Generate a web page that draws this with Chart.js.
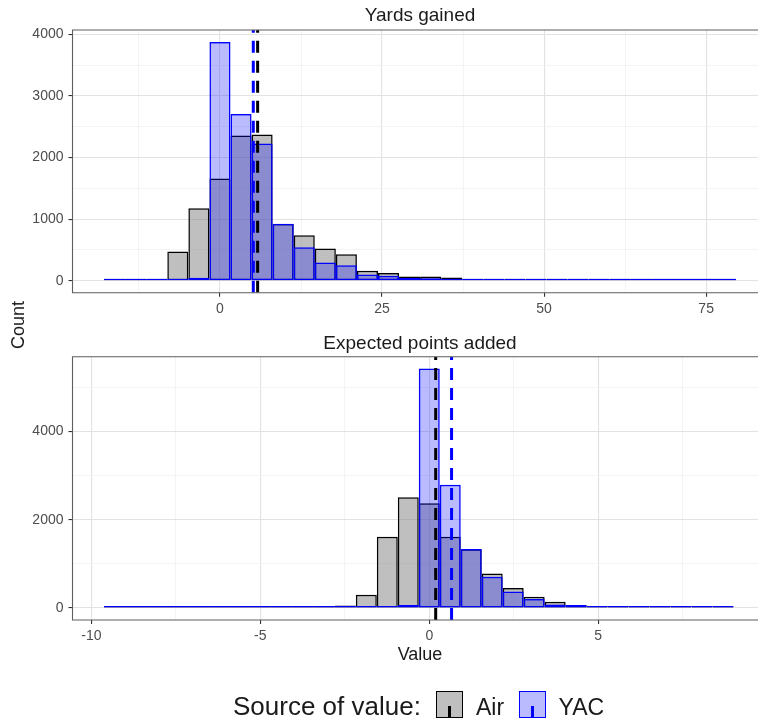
<!DOCTYPE html>
<html>
<head>
<meta charset="utf-8">
<script src="https://cdn.jsdelivr.net/npm/chart.js@4.4.1/dist/chart.umd.min.js"></script>
<style>
html,body{margin:0;padding:0;overflow:hidden;background:#fff;width:758px;height:721px;}
body{position:relative;font-family:"Liberation Sans",Arial,Helvetica,sans-serif;color:#1a1a1a;}
canvas{position:absolute;left:0;}
.txt{position:absolute;white-space:nowrap;}
.ttl{font-size:19px;line-height:19px;transform:translateX(-50%);}
.key{position:absolute;box-sizing:border-box;width:27px;height:27px;border:1.6px solid #000;}
.key i{position:absolute;left:50%;bottom:0;width:3px;margin-left:-1.5px;height:11px;}
</style>
</head>
<body>
<canvas id="c1" width="758" height="322" style="top:0px;width:758px;height:322px"></canvas>
<canvas id="c2" width="758" height="320" style="top:330px;width:758px;height:320px"></canvas>

<div class="txt ttl" id="t1" style="left:420px;top:4.6px;"></div>
<div class="txt ttl" id="t2" style="left:420px;top:333px;"></div>
<div class="txt" id="ylab" style="left:18px;top:325px;font-size:18px;line-height:18px;transform:translate(-50%,-50%) rotate(-90deg);"></div>
<div class="txt" id="xlab" style="left:420px;top:644.8px;font-size:18px;line-height:18px;transform:translateX(-50%);"></div>

<div class="txt" id="legTitle" style="left:233px;top:693px;font-size:26px;line-height:26px;"></div>
<div class="key" id="k1" style="left:436px;top:691px;"><i></i></div>
<div class="txt" id="l1" style="left:476px;top:695.5px;font-size:23px;line-height:23px;"></div>
<div class="key" id="k2" style="left:518.5px;top:691px;"><i></i></div>
<div class="txt" id="l2" style="left:558.5px;top:695.5px;font-size:23px;line-height:23px;"></div>

<script>
// ---------- data ----------
const panelTitles = ["Yards gained", "Expected points added"];
const axisTitles = ["Value", "Count"];
const legendTitle = "Source of value:";
const seriesNames = ["Air", "YAC"];

// Yards gained histogram (bin centres, counts)
const yardsBins = [-16.25, -13, -9.75, -6.5, -3.25, 0, 3.25, 6.5, 9.75, 13, 16.25, 19.5, 22.75, 26, 29.25,
                   32.5, 35.75, 39, 42.25, 45.5, 48.75, 52, 55.25, 58.5, 61.75, 65, 68.25, 71.5, 74.75, 78];
const yardsAir = [3, 8, 20, 474, 1175, 1660, 2356, 2372, 920, 738, 523, 431, 162, 124, 70,
                  68, 54, 32, 30, 28, 12, 8, 5, 4, 2, 2, 1, 1, 1, 1];
const yardsYac = [2, 3, 8, 15, 50, 3876, 2706, 2226, 927, 544, 296, 253, 102, 81, 45,
                  42, 30, 20, 18, 15, 10, 8, 6, 5, 4, 3, 3, 2, 2, 2];
const yardsMeans = [5.81, 5.14];   // Air, YAC

// Expected points added histogram
const epaBins = [-9.315, -8.694, -8.073, -7.452, -6.831, -6.21, -5.589, -4.968, -4.347, -3.726,
                 -3.105, -2.484, -1.863, -1.242, -0.621, 0, 0.621, 1.242, 1.863, 2.484,
                 3.105, 3.726, 4.347, 4.968, 5.589, 6.21, 6.831, 7.452, 8.073, 8.694];
const epaAir = [1, 1, 1, 2, 2, 3, 4, 6, 8, 12,
                20, 60, 302, 1615, 2510, 2377, 1615, 1330, 785, 453,
                257, 143, 68, 30, 15, 8, 5, 3, 2, 1];
const epaYac = [1, 1, 1, 1, 1, 2, 2, 3, 4, 5,
                8, 10, 15, 25, 68, 5430, 2792, 1340, 710, 377,
                204, 83, 68, 30, 15, 10, 6, 4, 3, 2];
const epaMeans = [0.19, 0.66];     // Air, YAC

// axes
const yardsXRange = [-22.75, 83.0];
const yardsYRange = [-194, 4070];
const yardsXMajor = [0, 25, 50, 75];
const yardsXMinor = [-12.5, 12.5, 37.5, 62.5];
const yardsYMajor = [0, 1000, 2000, 3000, 4000];
const yardsYMinor = [500, 1500, 2500, 3500];

const epaXRange = [-10.56, 9.73];
const epaYRange = [-271, 5695];
const epaXMajor = [-10, -5, 0, 5];
const epaXMinor = [-7.5, -2.5, 2.5, 7.5];
const epaYMajor = [0, 2000, 4000];
const epaYMinor = [1000, 3000, 5000];

// ---------- styling ----------
const FONT = '"Liberation Sans", Arial, Helvetica, sans-serif';
const airFill = 'rgba(128,128,128,0.5)', airLine = '#000000';
const yacFill = 'rgba(0,0,255,0.27)', yacLine = '#0000ff';

// panel frame: left, top, bottom (right side lies beyond the picture edge)
const panelBorder = {
  id: 'panelBorder',
  afterDatasetsDraw(chart) {
    const {ctx, chartArea: a} = chart;
    ctx.save();
    ctx.strokeStyle = '#5e5e5e';
    ctx.lineWidth = 1.1;
    ctx.beginPath();
    ctx.moveTo(a.right + 2, a.top);
    ctx.lineTo(a.left, a.top);
    ctx.lineTo(a.left, a.bottom);
    ctx.lineTo(a.right + 2, a.bottom);
    ctx.stroke();
    ctx.restore();
  }
};

function axis(range, major, minor, isX, fitSize, pad) {
  const isMajor = v => major.indexOf(v) !== -1;
  return {
    type: 'linear',
    min: range[0], max: range[1],
    offset: false,
    border: {display: false},
    grid: {
      offset: false,
      drawTicks: true,
      tickLength: 4,
      color: c => (c.tick && isMajor(c.tick.value)) ? '#e2e2e2' : '#f1f1f1',
      lineWidth: c => (c.tick && isMajor(c.tick.value)) ? 1.1 : 0.8,
      tickColor: c => (c.tick && isMajor(c.tick.value)) ? '#333333' : 'rgba(0,0,0,0)',
      tickWidth: 1.1
    },
    ticks: {
      autoSkip: false, maxRotation: 0, minRotation: 0,
      padding: pad,
      color: '#4d4d4d',
      font: {family: FONT, size: 14},
      callback: v => isMajor(v) ? String(v) : ''
    },
    afterBuildTicks: s => {
      s.ticks = major.concat(minor).sort((a, b) => a - b).map(v => ({value: v}));
    },
    afterFit: s => { if (isX) s.height = fitSize; else s.width = fitSize; }
  };
}

function makeChart(id, bins, air, yac, means, xR, yR, xMaj, xMin, yMaj, yMin, padTop, xAxisH) {
  const barCommon = {
    type: 'bar',
    grouped: false,
    barPercentage: 1,
    categoryPercentage: 1,
    borderWidth: 1.5,
    borderSkipped: false,
    minBarLength: 2,
    inflateAmount: 0
  };
  const vline = (m, color, order, dash) => ({
    type: 'line',
    data: [{x: m, y: yR[0]}, {x: m, y: yR[1]}],
    borderColor: color,
    borderWidth: 3,
    borderDash: dash,
    pointRadius: 0,
    fill: false,
    order: order
  });
  return new Chart(document.getElementById(id), {
    data: {
      datasets: [
        vline(means[0], airLine, 0, [12, 8]),
        vline(means[1], yacLine, 1, [12, 8]),
        Object.assign({}, barCommon, {
          label: seriesNames[1],
          data: bins.map((x, i) => ({x: x, y: yac[i]})),
          backgroundColor: yacFill, borderColor: yacLine, order: 2
        }),
        Object.assign({}, barCommon, {
          label: seriesNames[0],
          data: bins.map((x, i) => ({x: x, y: air[i]})),
          backgroundColor: airFill, borderColor: airLine, order: 3
        })
      ]
    },
    options: {
      responsive: false,
      animation: false,
      events: [],
      layout: {padding: {top: padTop, left: 0, right: 0, bottom: 0}},
      plugins: {legend: {display: false}, tooltip: {enabled: false}, title: {display: false}},
      scales: {
        x: axis(xR, xMaj, xMin, true, xAxisH, 4),
        y: axis(yR, yMaj, yMin, false, 72.5, 5)
      }
    },
    plugins: [panelBorder]
  });
}

makeChart('c1', yardsBins, yardsAir, yardsYac, yardsMeans, yardsXRange, yardsYRange,
          yardsXMajor, yardsXMinor, yardsYMajor, yardsYMinor, 30, 29.3);
makeChart('c2', epaBins, epaAir, epaYac, epaMeans, epaXRange, epaYRange,
          epaXMajor, epaXMinor, epaYMajor, epaYMinor, 26.7, 30);

// ---------- text ----------
document.getElementById('t1').textContent = panelTitles[0];
document.getElementById('t2').textContent = panelTitles[1];
document.getElementById('xlab').textContent = axisTitles[0];
document.getElementById('ylab').textContent = axisTitles[1];
document.getElementById('legTitle').textContent = legendTitle;
document.getElementById('l1').textContent = seriesNames[0];
document.getElementById('l2').textContent = seriesNames[1];
const k1 = document.getElementById('k1'), k2 = document.getElementById('k2');
k1.style.background = airFill; k1.style.borderColor = airLine; k1.firstChild.style.background = airLine;
k2.style.background = yacFill; k2.style.borderColor = yacLine; k2.firstChild.style.background = yacLine;
</script>
</body>
</html>
